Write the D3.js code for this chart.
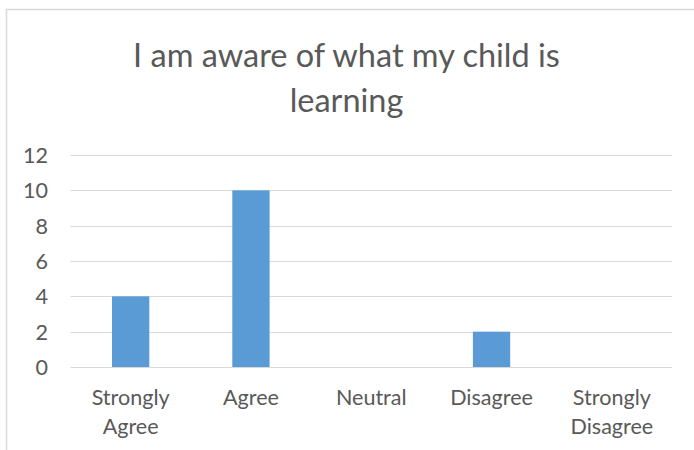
<!DOCTYPE html>
<html>
<head>
<meta charset="utf-8">
<script src="https://cdn.jsdelivr.net/npm/d3@7"></script>
<style>
  html, body { margin: 0; padding: 0; background: #fff; }
  svg { display: block; }
  text { font-family: Lato, "Open Sans", sans-serif; fill: #595959; }
</style>
</head>
<body>
<div id="chart"></div>
<script>
const titleLines = ["I am aware of what my child is", "learning"];
const categories = ["Strongly Agree", "Agree", "Neutral", "Disagree", "Strongly Disagree"];
const values = [4, 10, 0, 2, 0];
const yTicks = [0, 2, 4, 6, 8, 10, 12];

const W = 694, H = 450;
const svg = d3.select("#chart").append("svg").attr("width", W).attr("height", H);

// outer chart border (partially visible)
svg.append("path")
  .attr("d", `M6.5,${H} L6.5,9.5 L${W},9.5`)
  .attr("fill", "none").attr("stroke", "#d9d9d9").attr("stroke-width", 1.5);

const plot = { left: 70.5, right: 672, top: 155, bottom: 367 };

const x = d3.scaleBand().domain(categories).range([plot.left, plot.right])
  .paddingInner(0.69).paddingOuter(0.345);
const y = d3.scaleLinear().domain([0, 12]).range([plot.bottom, plot.top]);

// fit font size helper
function fitSize(sample, targetWidth, base) {
  const t = svg.append("text").attr("font-size", base).text(sample);
  const w = t.node().getComputedTextLength();
  t.remove();
  return base * targetWidth / w;
}
const titleSize = fitSize(titleLines[0], 427, 36);
const axisSize = fitSize("Strongly", 78, 20);

// title
const title = svg.append("text").attr("text-anchor", "middle").attr("font-size", titleSize);
titleLines.forEach((l, i) => {
  title.append("tspan").attr("x", 346.5).attr("y", i === 0 ? 67 : 112).text(l);
});

// gridlines
svg.append("g").selectAll("line").data(yTicks).join("line")
  .attr("x1", plot.left).attr("x2", plot.right)
  .attr("y1", d => Math.round(y(d)) + 0.5).attr("y2", d => Math.round(y(d)) + 0.5)
  .attr("stroke", "#d9d9d9").attr("stroke-width", 1);

// y axis labels
const yAxis = d3.axisLeft(y).tickValues(yTicks).tickSize(0).tickPadding(0);
const gy = svg.append("g").attr("transform", "translate(48,0)").call(yAxis);
gy.select(".domain").remove();
gy.selectAll("text").attr("font-size", axisSize).attr("fill", "#595959")
  .attr("font-family", "Lato, 'Open Sans', sans-serif").attr("dy", "0.35em");

// bars
svg.append("g").selectAll("rect").data(categories.map((c, i) => ({ c, v: values[i] })))
  .join("rect")
  .attr("x", d => x(d.c)).attr("width", x.bandwidth())
  .attr("y", d => y(d.v)).attr("height", d => y(0) - y(d.v))
  .attr("fill", "#5b9bd5");

// x labels (wrapped into lines)
const xl = svg.append("g");
categories.forEach(c => {
  const words = c.split(" ");
  const t = xl.append("text").attr("text-anchor", "middle").attr("font-size", axisSize);
  words.forEach((w, i) => {
    t.append("tspan").attr("x", x(c) + x.bandwidth() / 2).attr("y", 405 + i * 29).text(w);
  });
});
</script>
</body>
</html>
